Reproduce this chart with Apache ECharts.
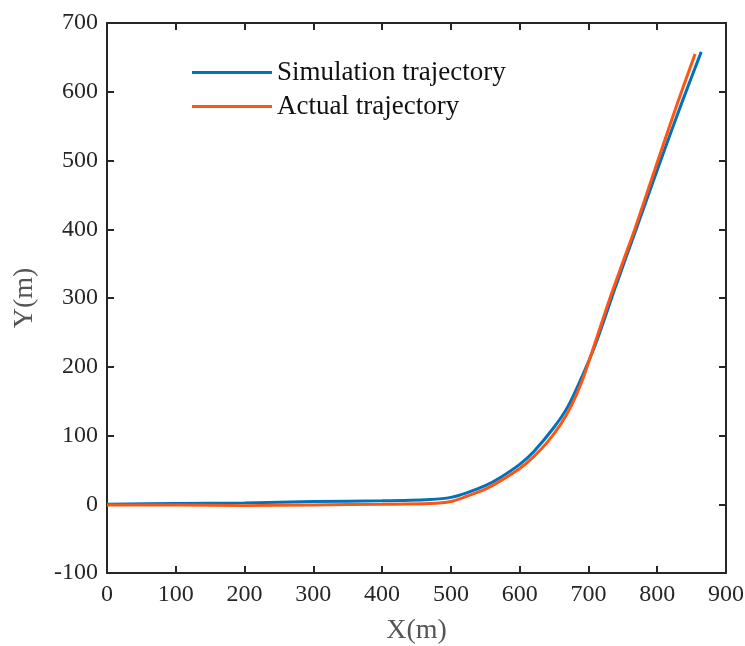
<!DOCTYPE html>
<html>
<head>
<meta charset="utf-8">
<script src="https://cdn.jsdelivr.net/npm/echarts@6/dist/echarts.min.js"></script>
<style>html,body{margin:0;padding:0;background:#fff;}#c{width:745px;height:646px;}</style>
</head>
<body>
<div id="c"></div>
<script>
var simX = [0, 100, 200, 300, 400, 470, 500, 524, 550, 572, 600, 620, 650, 670, 689, 710, 740, 770, 805, 835, 864];
var simY = [0, 1, 2, 4, 5, 7, 10, 17, 27, 39, 58, 76, 112, 142, 182, 232, 318, 402, 500, 582, 658];
var actX = [0, 100, 200, 300, 400, 470, 500, 524, 550, 572, 600, 620, 640, 660, 675, 691, 710, 730, 750, 768, 800, 830, 855];
var actY = [-1, -1, -2, -1, 0, 1, 4, 12, 22, 34, 52, 69, 90, 117, 143, 180, 236, 296, 352, 402, 497, 585, 655];
var seriesNames = ['Simulation trajectory', 'Actual trajectory'];
var xTicks = [0, 900, 100];
var yTicks = [-100, 700, 100];

function pairs(xs, ys) { return xs.map(function (x, i) { return [x, ys[i]]; }); }

var FONT = 'Liberation Serif';
var axisColor = '#262626';
var chart = echarts.init(document.getElementById('c'));
var baseX = {
  type: 'value', min: xTicks[0], max: xTicks[1], interval: xTicks[2],
  axisLine: { show: true, onZero: false, lineStyle: { color: axisColor, width: 2 } },
  axisTick: { show: true, inside: true, length: 7, lineStyle: { color: axisColor, width: 2 } },
  splitLine: { show: false }
};
var baseY = {
  type: 'value', min: yTicks[0], max: yTicks[1], interval: yTicks[2],
  axisLine: { show: true, onZero: false, lineStyle: { color: axisColor, width: 2 } },
  axisTick: { show: true, inside: true, length: 7, lineStyle: { color: axisColor, width: 2 } },
  splitLine: { show: false }
};
chart.setOption({
  animation: false,
  backgroundColor: '#fff',
  grid: { left: 107, right: 19, top: 23, bottom: 73, containLabel: false, outerBoundsMode: 'none' },
  legend: {
    data: seriesNames,
    orient: 'vertical',
    left: 187, top: 54,
    itemWidth: 80, itemHeight: 3, itemGap: 7,
    icon: 'rect',
    textStyle: { fontFamily: FONT, fontSize: 27, color: '#111' }
  },
  xAxis: [
    Object.assign({}, baseX, {
      position: 'bottom',
      name: 'X(m)', nameLocation: 'middle', nameGap: 44,
      nameTextStyle: { fontFamily: FONT, fontSize: 28, color: '#555' },
      axisLabel: { fontFamily: FONT, fontSize: 24, color: axisColor, margin: 10 }
    }),
    Object.assign({}, baseX, { position: 'top', axisLabel: { show: false } })
  ],
  yAxis: [
    Object.assign({}, baseY, {
      position: 'left',
      name: 'Y(m)', nameLocation: 'middle', nameGap: 68,
      nameTextStyle: { fontFamily: FONT, fontSize: 28, color: '#555' },
      axisLabel: { fontFamily: FONT, fontSize: 24, color: axisColor, margin: 9 }
    }),
    Object.assign({}, baseY, { position: 'right', axisLabel: { show: false } })
  ],
  series: [
    { name: seriesNames[0], type: 'line', data: pairs(simX, simY), smooth: 0.3, showSymbol: false,
      itemStyle: { color: '#0072BD' }, lineStyle: { color: '#0072BD', width: 3 } },
    { name: seriesNames[1], type: 'line', data: pairs(actX, actY), smooth: 0.3, showSymbol: false,
      itemStyle: { color: '#FF5511' }, lineStyle: { color: '#FF5511', width: 3 } }
  ]
});
</script>
</body>
</html>
